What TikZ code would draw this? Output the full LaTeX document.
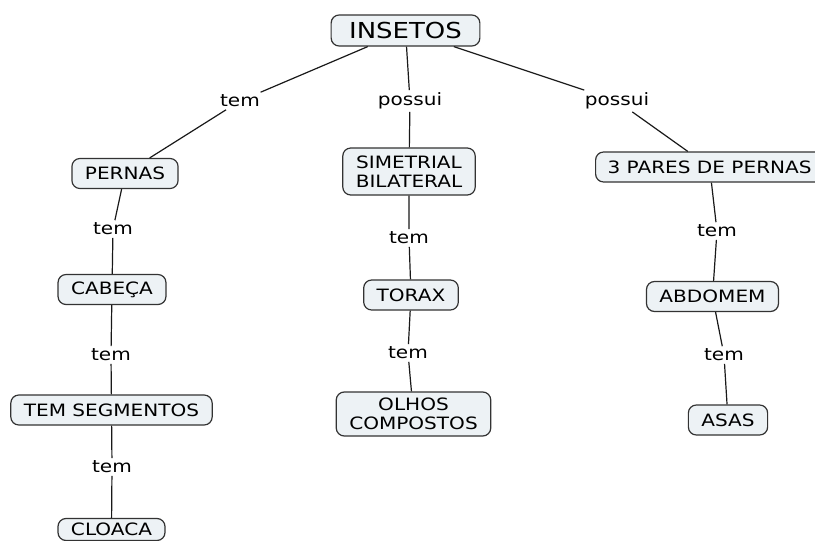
\documentclass[tikz,border=0pt]{standalone}
\usepackage{fontspec}
\setmainfont{DejaVu Sans}[FakeStretch=1.18]
\begin{document}
\begin{tikzpicture}[x=1pt,y=-1pt,
  concept/.style={draw=black!80, line width=1.2pt, fill=conceptfill,
    rounded corners=8pt, inner xsep=13pt, inner ysep=3pt,
    minimum height=30pt, align=center, font=\fontsize{17}{19}\selectfont},
  linkword/.style={inner sep=2.5pt, font=\fontsize{17}{19}\selectfont},
  link/.style={draw=black!90, line width=1.2pt}]
\definecolor{conceptfill}{HTML}{EDF2F5}
\useasboundingbox (0,0) rectangle (815,541);
\clip (0,0) rectangle (815,541);
\fill[white] (0,0) rectangle (815,541);

% concepts
\node[concept, inner xsep=18pt, minimum height=31pt,
      font=\fontsize{22}{24}\selectfont] (insetos) at (405.5,30.5) {INSETOS};
\node[concept] (pernas)  at (125,173.5) {PERNAS};
\node[concept] (cabeca)  at (112,289.5) {CABEÇA};
\node[concept] (segm)    at (111.5,410) {TEM SEGMENTOS};
\node[concept, inner ysep=0pt, minimum height=22pt] (cloaca) at (111.5,529.5) {CLOACA};
\node[concept, minimum height=47pt] (simetria) at (409,171.5) {SIMETRIAL\\BILATERAL};
\node[concept] (torax)   at (411,295) {TORAX};
\node[concept, minimum height=44pt] (olhos) at (413.5,414) {OLHOS\\COMPOSTOS};
\node[concept, anchor=west, inner xsep=12pt] (pares) at (595,167) {3 PARES DE PERNAS};
\node[concept] (abdomem) at (712.5,296.5) {ABDOMEM};
\node[concept] (asas)    at (728,420) {ASAS};

% linking words
\node[linkword] (l1)  at (240,101) {tem};
\node[linkword] (l2)  at (410,101) {possui};
\node[linkword] (l3)  at (617,101) {possui};
\node[linkword] (l4)  at (113,229) {tem};
\node[linkword] (l5)  at (111,355) {tem};
\node[linkword] (l6)  at (112,467) {tem};
\node[linkword] (l7)  at (409,238) {tem};
\node[linkword] (l8)  at (408,353) {tem};
\node[linkword] (l9)  at (717,231) {tem};
\node[linkword] (l10) at (724,355) {tem};

% connections
\draw[link] (insetos) -- (l1) -- (pernas);
\draw[link] (insetos) -- (l2) -- (simetria);
\draw[link] (insetos) -- (l3) -- (pares);
\draw[link] (pernas) -- (l4) -- (cabeca);
\draw[link] (cabeca) -- (l5) -- (segm);
\draw[link] (segm) -- (l6) -- (cloaca);
\draw[link] (simetria) -- (l7) -- (torax);
\draw[link] (torax) -- (l8) -- (olhos);
\draw[link] (pares) -- (l9) -- (abdomem);
\draw[link] (abdomem) -- (l10) -- (asas);
\end{tikzpicture}
\end{document}
